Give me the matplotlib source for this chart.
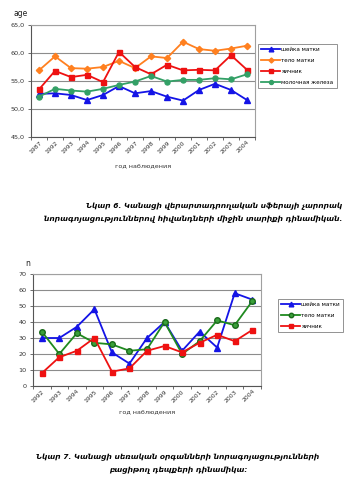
import matplotlib
matplotlib.use("Agg")
import matplotlib.pyplot as plt
from matplotlib.ticker import FixedLocator, NullFormatter

# mean age by year of observation
years_age = ["1987", "1992", "1993", "1994", "1995", "1996", "1997",
             "1998", "1999", "2000", "2001", "2002", "2003", "2004"]
age_cervix = [52.7, 52.8, 52.5, 51.6, 52.5, 54.1, 52.8, 53.2, 52.2, 51.5, 53.4, 54.5, 53.4, 51.6]
age_corpus = [56.9, 59.4, 57.3, 57.2, 57.5, 58.6, 57.3, 59.4, 59.1, 62.0, 60.7, 60.4, 60.8, 61.3]
age_ovary = [53.5, 56.8, 55.7, 56.1, 54.8, 60.2, 57.5, 56.2, 57.9, 56.9, 57.0, 56.9, 59.6, 57.0]
age_breast = [52.2, 53.6, 53.3, 53.1, 53.6, 54.3, 54.9, 55.9, 54.9, 55.2, 55.2, 55.5, 55.3, 56.2]

# neglected cases by year of observation
years_cases = ["1992", "1993", "1994", "1995", "1996", "1997", "1998",
               "1999", "2000", "2001", "2002", "2003", "2004"]
cases_cervix = [30, 30, 37, 48, 21, 14, 30, 40, 22, 34, 24, 58, 54]
cases_corpus = [34, 20, 33, 27, 26, 22, 23, 40, 20, 28, 41, 38, 53]
cases_ovary = [8, 18, 22, 30, 9, 11, 22, 25, 21, 27, 32, 28, 35]

W, H = 350, 486
CAPTION_FONT = dict(family="DejaVu Sans", style="italic", weight="bold", size=5.4)
GRID = "#8c8c8c"


def fx(px):
    return px / W


def fy(py):
    return 1 - py / H


def style_axes(ax, labels, ylim, yticks, fmt):
    n = len(labels)
    ax.set_xlim(0.5, n + 0.5)
    ax.set_ylim(*ylim)
    ax.set_yticks(yticks)
    ax.set_yticklabels([fmt(v) for v in yticks], fontsize=4.6, color="#333333")
    ax.set_xticks(range(1, n + 1))
    ax.set_xticklabels(labels, rotation=45, ha="right", rotation_mode="anchor",
                       fontsize=4.4, color="#333333")
    ax.tick_params(axis="x", which="major", length=0, pad=2)
    ax.xaxis.set_minor_locator(FixedLocator([i + 0.5 for i in range(n + 1)]))
    ax.xaxis.set_minor_formatter(NullFormatter())
    ax.tick_params(axis="x", which="minor", length=2.5, width=0.6, color="#555555")
    ax.tick_params(axis="y", length=2.5, width=0.6, color="#555555", pad=2)
    ax.grid(axis="y", color=GRID, linewidth=0.8)
    ax.set_axisbelow(True)
    for side in ("top", "right"):
        ax.spines[side].set_color("#a0a0a0")
        ax.spines[side].set_linewidth(0.8)
    for side in ("left", "bottom"):
        ax.spines[side].set_color("#555555")
        ax.spines[side].set_linewidth(0.8)


def add_legend(ax, left_px, top_px):
    leg = ax.legend(loc="upper left", bbox_to_anchor=(fx(left_px), fy(top_px)),
                    bbox_transform=fig.transFigure, fontsize=4.1, frameon=True,
                    fancybox=False, edgecolor="#777777", handlelength=3.2,
                    handletextpad=0.3, borderpad=0.6, labelspacing=1.0, borderaxespad=0,
                    markerscale=0.8)
    leg.get_frame().set_linewidth(0.7)
    return leg


fig = plt.figure(figsize=(W / 100, H / 100), dpi=100)

# upper chart: mean age
ax1 = fig.add_axes([fx(31), fy(137), fx(255) - fx(31), fy(25) - fy(137)])
x1 = range(1, len(years_age) + 1)
ax1.plot(x1, age_cervix, color="#1414e6", marker="^", ms=4.2, lw=1.3, label="шейка матки")
ax1.plot(x1, age_corpus, color="#ff8020", marker="D", ms=3.2, lw=1.3, label="тело матки")
ax1.plot(x1, age_ovary, color="#ee1111", marker="s", ms=3.6, lw=1.3, label="яичник")
ax1.plot(x1, age_breast, color="#33a066", marker="o", ms=3.6, lw=1.3, label="молочная железа")
style_axes(ax1, years_age, (45, 65), [45, 50, 55, 60, 65], lambda v: f"{v:.1f}".replace(".", ","))
add_legend(ax1, 258, 44)
fig.text(fx(14), fy(13), "age", fontsize=5.5, color="#222222", va="center", ha="left")
fig.text(fx(143), fy(167), "год наблюдения", fontsize=4.6, color="#333333", ha="center", va="center")

fig.text(fx(342), fy(206), "Նկար 6. Կանացի վերարտադրողական սֆերայի չարորակ",
         ha="right", va="center", **CAPTION_FONT)
fig.text(fx(342), fy(219), "նորագոյացություններով հիվանդների միջին տարիքի դինամիկան.",
         ha="right", va="center", **CAPTION_FONT)

# lower chart: number of neglected cases
ax2 = fig.add_axes([fx(33), fy(386), fx(261) - fx(33), fy(274) - fy(386)])
x2 = range(1, len(years_cases) + 1)
ax2.plot(x2, cases_cervix, color="#1414e6", marker="^", ms=4.2, lw=1.3, label="шейка матки")
ax2.plot(x2, cases_corpus, color="#1f8a1f", marker="o", ms=4.0, lw=1.3,
         markerfacecolor="#3aa03a", markeredgecolor="#1a6a1a", label="тело матки")
ax2.plot(x2, cases_ovary, color="#ee1111", marker="s", ms=3.6, lw=1.3, label="яичник")
style_axes(ax2, years_cases, (0, 70), list(range(0, 71, 10)), lambda v: f"{v:d}")
add_legend(ax2, 278, 299)
fig.text(fx(25), fy(264), "n", fontsize=5.5, color="#222222", va="center", ha="left")
fig.text(fx(147), fy(413), "год наблюдения", fontsize=4.6, color="#333333", ha="center", va="center")

fig.text(fx(178), fy(457), "Նկար 7. Կանացի սեռական օրգանների նորագոյացությունների",
         ha="center", va="center", **CAPTION_FONT)
fig.text(fx(178), fy(470), "բացիթող դեպքերի դինամիկա:",
         ha="center", va="center", **CAPTION_FONT)

fig.savefig("out.png", dpi=100)
